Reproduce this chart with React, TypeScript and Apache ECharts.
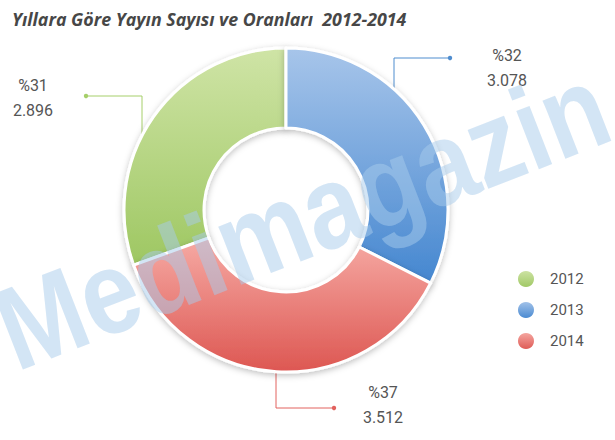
import React, { useEffect, useRef } from "react";
import * as echarts from "echarts";

const years = ["2012", "2013", "2014"];
const counts = [2896, 3078, 3512];
const topColors = ["#cfe4a6", "#a7c5ea", "#f6aaa4"];
const bottomColors = ["#9ec762", "#4587d0", "#dd5752"];
const legendColors = ["#9dcb5c", "#4b8fd6", "#e8635d"];
const lineColors = ["#a6cf6a", "#4f8dcf", "#e2625e"];

// leader lines: elbow points + label centre (px inside the 615x440 chart)
const leaderPoints = [
  [[142, 134], [142, 96], [86, 96]],
  [[394, 94], [394, 58], [450, 58]],
  [[276, 370], [276, 408], [334, 408]],
];
const labelPos = [
  [33, 98],
  [507, 68],
  [383, 405],
];

const fmt = (v: number) => String(v).replace(/\B(?=(\d{3})+(?!\d))/g, ".");

const App: React.FC = () => {
  const chartRef = useRef<HTMLDivElement>(null);

  useEffect(() => {
    if (!chartRef.current) return;
    const chart = echarts.init(chartRef.current, null, { renderer: "svg" });
    const total = counts.reduce((a, b) => a + b, 0);

    chart.setOption({
      animation: false,
      backgroundColor: "#ffffff",
      title: {
        text: "Yıllara Göre Yayın Sayısı ve Oranları  2012-2014",
        left: 7,
        top: 5,
        textStyle: {
          fontFamily: "Open Sans",
          fontStyle: "italic",
          fontWeight: "bold",
          fontSize: 17.8,
          color: "#474747",
        },
      },
      legend: {
        orient: "vertical",
        left: 516,
        top: 269,
        padding: 0,
        icon: "circle",
        itemWidth: 18,
        itemHeight: 18,
        itemGap: 11,
        data: years,
        textStyle: { fontFamily: "Roboto", fontSize: 15, color: "#555", padding: [0, 0, 0, 10] },
      },
      graphic: [
        ...leaderPoints.map((pts, i) => ({
          type: "circle",
          z: 20,
          shape: { cx: pts[2][0], cy: pts[2][1], r: 2.2 },
          style: { fill: lineColors[i] },
        })),
        {
          // watermark
          type: "text",
          z: 100,
          x: 302,
          y: 217,
          rotation: 0.37,
          scaleX: 0.87,
          style: {
            text: "Medimagazin",
            fontFamily: "Liberation Sans",
            fontWeight: "bold",
            fontSize: 118,
            fill: "rgba(168,204,236,0.5)",
            align: "center",
            verticalAlign: "middle",
          },
        },
      ],
      series: [
        {
          type: "pie",
          center: [286, 210],
          radius: [82, 162],
          startAngle: 90 + (counts[0] / total) * 360,
          clockwise: true,
          itemStyle: {
            borderColor: "#ffffff",
            borderWidth: 3,
            shadowBlur: 6,
            shadowOffsetY: 2,
            shadowColor: "rgba(0,0,0,0.25)",
          },
          label: {
            show: true,
            position: "outside",
            fontFamily: "Roboto",
            fontSize: 16,
            color: "#555",
            lineHeight: 25,
            formatter: (p: any) => `%${Math.round(p.percent)}\n${fmt(p.value)}`,
          },
          labelLine: { show: true, lineStyle: { width: 1 } },
          labelLayout: (p: any) => ({
            x: labelPos[p.dataIndex][0],
            y: labelPos[p.dataIndex][1],
            align: "center",
            verticalAlign: "middle",
            labelLinePoints: leaderPoints[p.dataIndex],
          }),
          emphasis: { disabled: true },
          data: years.map((y, i) => ({
            name: y,
            value: counts[i],
            itemStyle: {
              color: new echarts.graphic.LinearGradient(0, 0, 0, 1, [
                { offset: 0, color: topColors[i] },
                { offset: 1, color: bottomColors[i] },
              ]),
            },
            labelLine: { lineStyle: { color: lineColors[i] } },
          })),
        },
        {
          // legend colours only
          type: "pie",
          radius: 0,
          silent: true,
          label: { show: false },
          labelLine: { show: false },
          data: years.map((y, i) => ({ name: y, value: 0, itemStyle: { color: legendColors[i] } })),
        },
      ],
    });

    return () => chart.dispose();
  }, []);

  return (
    <div
      ref={chartRef}
      style={{ position: "fixed", left: 0, top: 0, width: 615, height: 440 }}
    />
  );
};

export default App;
